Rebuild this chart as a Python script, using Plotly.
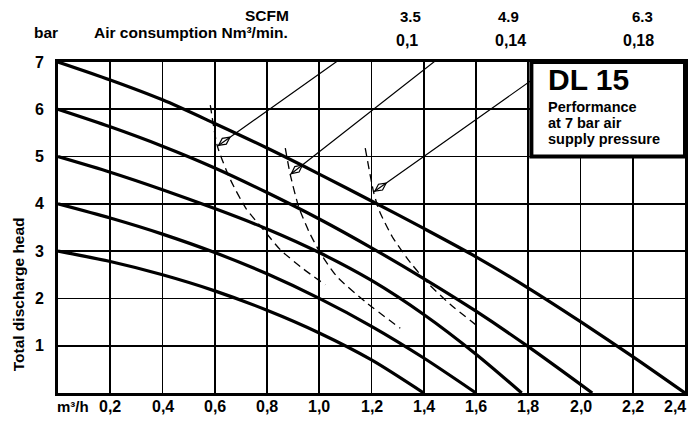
import math
import plotly.graph_objects as go

# ---------------- data ----------------
# Pump performance curves (flow m3/h vs total discharge head, bar)
curve_x = [
    [0, 0.2, 0.4, 0.6, 0.8, 1.0, 1.2, 1.4, 1.6, 1.8, 2.0, 2.2, 2.4],
    [0, 0.2, 0.4, 0.6, 0.8, 1.0, 1.2, 1.4, 1.6, 1.8, 2.045],
    [0, 0.2, 0.4, 0.6, 0.8, 1.0, 1.2, 1.4, 1.6, 1.775],
    [0, 0.2, 0.4, 0.6, 0.8, 1.0, 1.2, 1.4, 1.6],
    [0, 0.2, 0.4, 0.6, 0.8, 1.0, 1.2, 1.4],
]
curve_y = [
    [7, 6.62, 6.20, 5.70, 5.18, 4.63, 4.06, 3.48, 2.88, 2.22, 1.51, 0.77, 0],
    [6, 5.63, 5.22, 4.76, 4.24, 3.68, 3.07, 2.42, 1.73, 0.98, 0],
    [5, 4.67, 4.30, 3.90, 3.47, 2.97, 2.38, 1.66, 0.82, 0],
    [4, 3.70, 3.36, 2.97, 2.52, 2.00, 1.41, 0.74, 0],
    [3, 2.78, 2.50, 2.16, 1.75, 1.27, 0.70, 0],
]

# Air consumption curves (dashed)
air_labels = ["0,1", "0,14", "0,18"]
scfm_labels = ["3.5", "4.9", "6.3"]
air_x = [
    [0.583, 0.610, 0.66, 0.72, 0.787, 0.851, 0.94, 1.023],
    [0.870, 0.889, 0.921, 0.96, 1.004, 1.068, 1.183, 1.31],
    [1.176, 1.208, 1.23, 1.28, 1.35, 1.42, 1.50, 1.616],
]
air_y = [
    [6.09, 5.22, 4.51, 3.90, 3.45, 3.03, 2.62, 2.29],
    [5.18, 4.62, 3.94, 3.42, 2.96, 2.46, 1.90, 1.37],
    [5.18, 4.25, 3.85, 3.30, 2.75, 2.30, 1.88, 1.37],
]

x_tick_vals = [0.2, 0.4, 0.6, 0.8, 1.0, 1.2, 1.4, 1.6, 1.8, 2.0, 2.2, 2.4]
x_tick_text = ["0,2", "0,4", "0,6", "0,8", "1,0", "1,2", "1,4", "1,6", "1,8", "2,0", "2,2", "2,4"]
y_tick_vals = [1, 2, 3, 4, 5, 6, 7]

# ---------------- layout constants ----------------
W, H = 688, 424
ML, MR, MT, MB = 57.5, 3, 62, 30.7
XR, YR = (0, 2.4), (0, 7)
PW, PH = W - ML - MR, H - MT - MB
PX_X = PW / (XR[1] - XR[0])
PX_Y = PH / (YR[1] - YR[0])


def xp(px):  # pixel -> paper x
    return (px - ML) / PW


def yp(py):  # pixel -> paper y
    return (H - MB - py) / PH


FONT = "Liberation Sans, Arial, Helvetica, sans-serif"
BLACK = "black"
label_y = 7.465
label_px = [406.7, 510, 638]
scfm_px = [410, 508, 642]
elbow_x = [1.183, 1.546, 2.03]
end_x = [1.265, 1.642, 2.139]

fig = go.Figure()

for xs, ys in zip(curve_x, curve_y):
    fig.add_trace(go.Scatter(x=xs, y=ys, mode="lines",
                             line=dict(color=BLACK, width=3.2, shape="spline", smoothing=0.8),
                             hoverinfo="skip", showlegend=False))

for xs, ys in zip(air_x, air_y):
    fig.add_trace(go.Scatter(x=xs, y=ys, mode="lines",
                             line=dict(color=BLACK, width=1.3, dash="8px,5px", shape="spline", smoothing=0.6),
                             hoverinfo="skip", showlegend=False))


def txt(x, y, text, size=16, bold=False, **kw):
    f = dict(family=FONT, size=size, color=BLACK)
    if bold:
        f["weight"] = "bold"
    d = dict(x=x, y=y, xref="paper", yref="paper", text=text, showarrow=False, font=f,
             xanchor="center", yanchor="middle", borderpad=0)
    d.update(kw)
    return d


annotations = []
for i in range(3):
    tx, ty = air_x[i][1], air_y[i][1]
    fig.add_trace(go.Scatter(x=[tx, elbow_x[i], end_x[i]], y=[ty, label_y, label_y], mode="lines",
                             line=dict(color=BLACK, width=1.2), cliponaxis=False,
                             hoverinfo="skip", showlegend=False))
    dxp = (elbow_x[i] - tx) * PX_X
    dyp = (label_y - ty) * PX_Y
    d = math.hypot(dxp, dyp)
    t = 8.5 / d
    mx = tx + (elbow_x[i] - tx) * t
    my = ty + (label_y - ty) * t
    ang = 90 - math.degrees(math.atan2(dyp, dxp))
    fig.add_trace(go.Scatter(x=[mx], y=[my], mode="markers",
                             marker=dict(symbol="diamond-tall-open", size=10, angle=ang,
                                         color=BLACK, line=dict(width=1.2, color=BLACK)),
                             hoverinfo="skip", showlegend=False))
    annotations.append(txt(xp(label_px[i]), yp(40), air_labels[i], 16, True))
    annotations.append(txt(xp(scfm_px[i]), yp(16), scfm_labels[i], 15, True))

# x tick labels (below the axis)
for v, t in zip(x_tick_vals, x_tick_text):
    if v == x_tick_vals[-1]:
        annotations.append(txt((v - XR[0]) / (XR[1] - XR[0]) + 2 / PW, yp(407), t, 16, True,
                               xanchor="right"))
    else:
        annotations.append(txt((v - XR[0]) / (XR[1] - XR[0]), yp(407), t, 16, True))
annotations.append(txt(xp(73), yp(407), "m³/h", 15, True))

# header / side texts
annotations += [
    txt(xp(45), yp(32), "bar", 15.5, True),
    txt(xp(191), yp(32), "Air consumption Nm³/min.", 15.5, True),
    txt(xp(267), yp(15), "SCFM", 15.5, True),
    txt(xp(18), yp(295), "Total discharge head", 15.5, True, textangle=-90),
    txt(xp(547), yp(79.5), "<b>DL 15</b>", 30, xanchor="left"),
    txt(xp(547), yp(107), "Performance", 14.5, True, xanchor="left"),
    txt(xp(547), yp(123), "at 7 bar air", 14.5, True, xanchor="left"),
    txt(xp(547), yp(139), "supply pressure", 14.5, True, xanchor="left"),
]

fig.add_shape(type="rect", xref="x", yref="y", x0=1.812, x1=2.4, y0=5, y1=7,
              line=dict(color=BLACK, width=4), fillcolor="white", layer="above")

fig.update_layout(
    width=W, height=H,
    margin=dict(l=ML, r=MR, t=MT, b=MB, autoexpand=False),
    paper_bgcolor="white", plot_bgcolor="white",
    annotations=annotations,
    xaxis=dict(range=list(XR), tick0=0, dtick=0.2, showticklabels=False, showgrid=True,
               gridcolor=BLACK, gridwidth=1.8, zeroline=False, showline=True, linecolor=BLACK,
               linewidth=3, mirror=True, ticks=""),
    yaxis=dict(range=list(YR), tickvals=y_tick_vals, showgrid=True, gridcolor=BLACK, gridwidth=1.8,
               zeroline=False, showline=True, linecolor=BLACK, linewidth=3, mirror=True, ticks="",
               ticklabelstandoff=8,
               tickfont=dict(family=FONT, size=16, color=BLACK, weight="bold")),
    showlegend=False,
)

fig.write_html("out.html", config={"displayModeBar": False, "staticPlot": True},
               post_script="document.body.style.margin='0';document.body.style.overflow='hidden';")
